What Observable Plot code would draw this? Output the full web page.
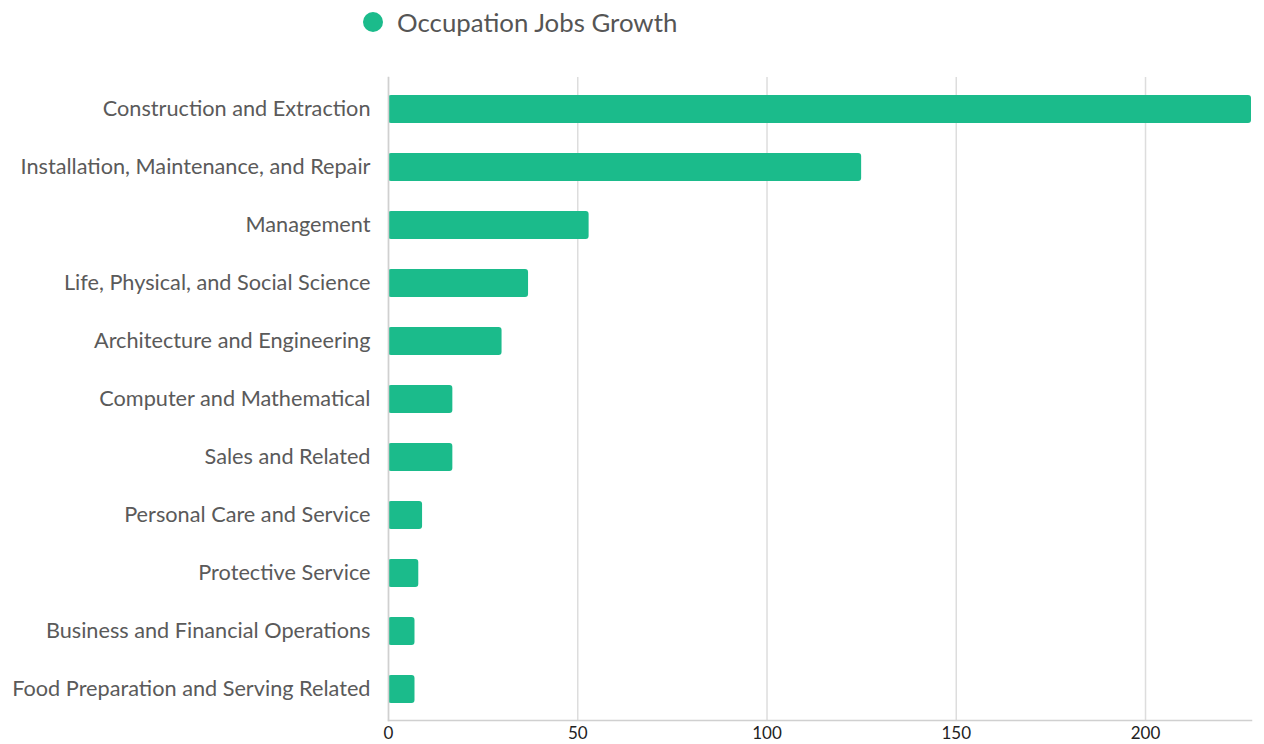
<!DOCTYPE html>
<html>
<head>
<meta charset="utf-8">
<script src="https://cdn.jsdelivr.net/npm/d3@7"></script>
<script src="https://cdn.jsdelivr.net/npm/@observablehq/plot@0.6"></script>
<style>
  body { margin: 0; background: #fff; font-family: Lato, sans-serif; }
  #legend { height: 44px; position: relative; }
  #legend .dot { position: absolute; left: 363px; top: 12px; width: 20px; height: 20px; border-radius: 50%; background: #1bbb8b; }
  #legend .lbl { position: absolute; left: 397px; top: 4px; font-size: 25.8px; color: #555; line-height: 36px; }
  #chart svg { display: block; }
</style>
</head>
<body>
<div id="legend"><span class="dot"></span><span class="lbl">Occupation Jobs Growth</span></div>
<div id="chart"></div>
<script>
const categories = [
  "Construction and Extraction",
  "Installation, Maintenance, and Repair",
  "Management",
  "Life, Physical, and Social Science",
  "Architecture and Engineering",
  "Computer and Mathematical",
  "Sales and Related",
  "Personal Care and Service",
  "Protective Service",
  "Business and Financial Operations",
  "Food Preparation and Serving Related"
];
const values = [228, 125, 53, 37, 30, 17, 17, 9, 8, 7, 7];
const xTicks = [0, 50, 100, 150, 200];

const data = categories.map((c, i) => ({category: c, value: values[i]}));

const chart = Plot.plot({
  width: 1264,
  height: 700,
  marginTop: 33,
  marginBottom: 24,
  marginLeft: 388,
  marginRight: 13,
  style: {fontFamily: "Lato, sans-serif", background: "#fff"},
  x: {domain: [0, 228], ticks: xTicks, label: null},
  y: {domain: categories, paddingInner: 0.52, paddingOuter: 0.26, label: null},
  marks: [
    Plot.gridX(xTicks, {stroke: "#dddddd", strokeOpacity: 1, strokeWidth: 1.5}),
    Plot.barX(data, {x: "value", y: "category", fill: "#1bbb8b", rx: 3}),
    Plot.frame({anchor: "bottom", stroke: "#d0d0d0", strokeWidth: 1.5}),
    Plot.frame({anchor: "left", stroke: "#d0d0d0", strokeWidth: 1.5}),
    Plot.axisX(xTicks, {tickSize: 0, tickPadding: 6, fontSize: 17, fill: "#222", label: null}),
    Plot.axisY({tickSize: 0, tickPadding: 18, fontSize: 21.7, fill: "#5a5a5a", label: null})
  ]
});
document.getElementById("chart").appendChild(chart);
</script>
</body>
</html>
